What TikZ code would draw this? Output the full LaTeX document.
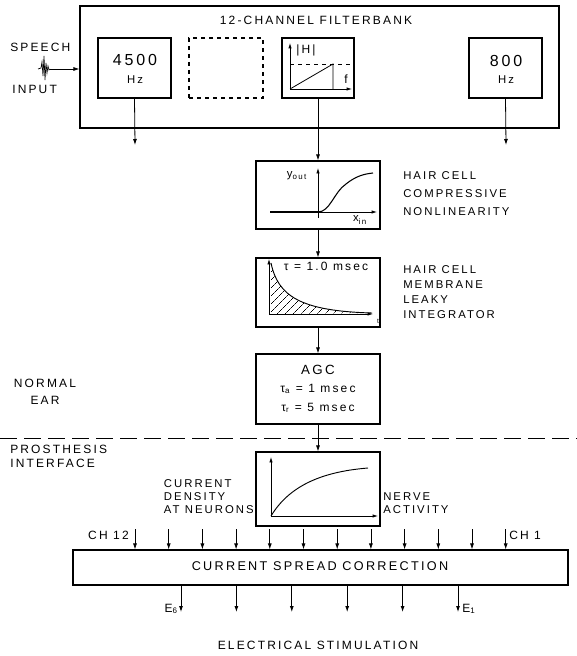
\documentclass[tikz,border=0pt]{standalone}
\usepackage{fontspec}
\setmainfont{Liberation Sans}[LetterSpace=18]
\usetikzlibrary{arrows.meta,positioning,fit,patterns.meta}

\begin{document}
\begin{tikzpicture}[x=0.75pt, y=-0.75pt,
    box/.style={draw, line width=0.8pt, inner sep=0pt},
    txt/.style={inner sep=0pt, font=\fontsize{9}{12}\selectfont},
    lbl/.style={inner sep=0pt, align=left, anchor=west, font=\fontsize{8.5}{13.5}\selectfont},
    big/.style={inner sep=0pt, font=\fontsize{12}{14}\selectfont},
    arr/.style={-{Latex[length=4.5pt,width=3pt]}, line width=0.6pt},
    axis/.style={-{Latex[length=4pt,width=2.5pt]}, line width=0.5pt}
  ]
  \useasboundingbox (0,0) rectangle (577,656);

  % filterbank
  \node[box, fit={(80,6) (559,128)}] (bank) {};
  \node[txt] (banktitle) at (316,20) {12-CHANNEL FILTERBANK};
  \node[box, fit={(98,38) (171,98)}] (lo) {};
  \node[big] (lofreq) at (135,60) {4500};
  \node[txt, font=\fontsize{8.5}{10}\selectfont] (lohz) at (135,80) {Hz};
  \node[box, dashed, fit={(189,38) (263,98)}] (dots) {};
  \node[box, fit={(282,38) (354,98)}] (mid) {};
  \node[box, fit={(469,38) (542,98)}] (hi) {};
  \node[big] (hifreq) at (506,61) {800};
  \node[txt, font=\fontsize{8.5}{10}\selectfont] (hihz) at (506,80) {Hz};

  % |H| sketch
  \draw[axis] (290,89) -- (290,43);
  \draw[axis] (290,89) -- (352,89);
  \draw[dashed, line width=0.5pt] (290,64) -- (mid.east |- 0,64);
  \draw[line width=0.6pt] (290,89) -- (333,64) -- (333,89);
  \node[txt] (habs) at (306,50) {|H|};
  \node[txt] (freq) at (346,79) {f};

  % speech input
  \node[txt, anchor=west] (speechtxt) at (10,47) {SPEECH};
  \node[txt, anchor=west] (inputtxt) at (12,89) {INPUT};
  \coordinate (speech) at (50,69);
  \draw[line width=0.5pt] (38,69) -- (41,68) -- (42,62) -- (43,76) -- (44,56) -- (45,80) -- (46,63) -- (47,73) -- (48,66) -- (49,70) -- (speech);
  \draw[arr] (speech) -- (bank.west |- speech);

  \coordinate (lotip) at (135,145);
  \coordinate (hitip) at (506,145);
  \draw[arr] (lo.south) -- (lotip);
  \draw[arr] (hi.south) -- (hitip);

  % hair cell nonlinearity
  \node[box, fit={(256,161) (380,229)}] (hcell) {};
  \draw[axis] (270,212) -- (377,212);
  \draw[line width=1.8pt] (270,212) -- (318,212);
  \draw[axis] (318,218) -- (318,168);
  \draw[line width=0.8pt] (318,212) .. controls (330,212) and (334,192) .. (346,184) .. controls (356,176) and (364,174) .. (373,173);
  \node[txt, font=\fontsize{8.5}{10}\selectfont] (yout) at (297,176) {y\textsubscript{out}};
  \node[txt, font=\fontsize{8.5}{10}\selectfont] (xin) at (360,220) {x\textsubscript{in}};
  \node[lbl] (hclabel) at (403,193.5) {HAIR CELL\\COMPRESSIVE\\NONLINEARITY};

  % leaky integrator
  \node[box, fit={(256,258) (380,327)}] (leak) {};
  \fill[pattern={Lines[angle=45,distance=4pt,line width=0.4pt]}] (271,314) -- (271,263) .. controls (278,296) and (300,311) .. (372,313) -- cycle;
  \draw[line width=0.7pt] (271,263) .. controls (278,296) and (300,311) .. (372,313);
  \draw[axis] (269,314) -- (373,314);
  \draw[axis] (269,314) -- (269,259);
  \node[txt] (tau) at (326,266) {τ = 1.0 msec};
  \node[inner sep=0pt, font=\fontsize{5}{6}\selectfont] (tmark) at (378,321) {t};
  \node[lbl, font=\fontsize{8.5}{11.25}\selectfont] (leaklabel) at (403,292.5) {HAIR CELL\\MEMBRANE\\LEAKY\\INTEGRATOR};

  % AGC
  \node[box, fit={(256,354) (380,424)}] (agc) {};
  \node[txt, font=\fontsize{10}{12}\selectfont] (agcname) at (318,370) {AGC};
  \node[txt] (taua) at (318,389) {τ\textsubscript{a} = 1 msec};
  \node[txt] (taur) at (318,408) {τ\textsubscript{r} = 5 msec};
  \node[txt, align=center, font=\fontsize{9}{12.75}\selectfont] (normal) at (45,392) {NORMAL\\EAR};

  \draw[arr] (mid.south) -- (hcell.north);
  \draw[arr] (hcell.south) -- (leak.north);
  \draw[arr] (leak.south) -- (agc.north);

  % ear / prosthesis boundary
  \coordinate (sepL) at (0,438);
  \coordinate (sepR) at (577,438);
  \draw[dash pattern=on 13pt off 5pt, line width=0.6pt] (sepL) -- (sepR);
  \node[lbl, font=\fontsize{9}{10}\selectfont] (prosth) at (10,456.5) {PROSTHESIS\\INTERFACE};

  % current density vs nerve activity
  \node[box, fit={(256,452) (380,526)}] (nerve) {};
  \draw[axis] (271,516) -- (378,516);
  \draw[axis] (271,516) -- (271,457);
  \draw[line width=0.7pt] (271,516) .. controls (288,488) and (318,472) .. (368,468);
  \node[lbl, anchor=east, font=\fontsize{8.5}{9.75}\selectfont] (density) at (254,497) {CURRENT\\DENSITY\\AT NEURONS};
  \node[lbl, font=\fontsize{8.5}{9.75}\selectfont] (activity) at (383,503) {NERVE\\ACTIVITY};
  \draw[arr] (agc.south) -- (nerve.north);

  % current spread correction
  \node[box, fit={(73,550) (568,585)}] (spread) {};
  \node[txt, font=\fontsize{9.5}{12}\selectfont] (spreadname) at (320,566) {CURRENT SPREAD CORRECTION};
  \foreach \i in {0,...,11} {
    \coordinate (ch\i) at ({135+33.7*\i},529);
    \draw[arr] (ch\i) -- (ch\i |- spread.north);
  }
  \node[txt, anchor=east] (ch12) at (129,535) {CH 12};
  \node[txt, anchor=west] (ch1) at (509,535) {CH 1};
  \foreach \i in {0,...,5} {
    \coordinate (el\i) at ({181+55.4*\i},612);
    \draw[arr] (el\i |- spread.south) -- (el\i);
  }
  \node[txt, anchor=east] (e6) at (178,609) {E\textsubscript{6}};
  \node[txt, anchor=west] (e1) at (462,609) {E\textsubscript{1}};
  \node[txt] (stim) at (318,645) {ELECTRICAL STIMULATION};
\end{tikzpicture}
\end{document}
